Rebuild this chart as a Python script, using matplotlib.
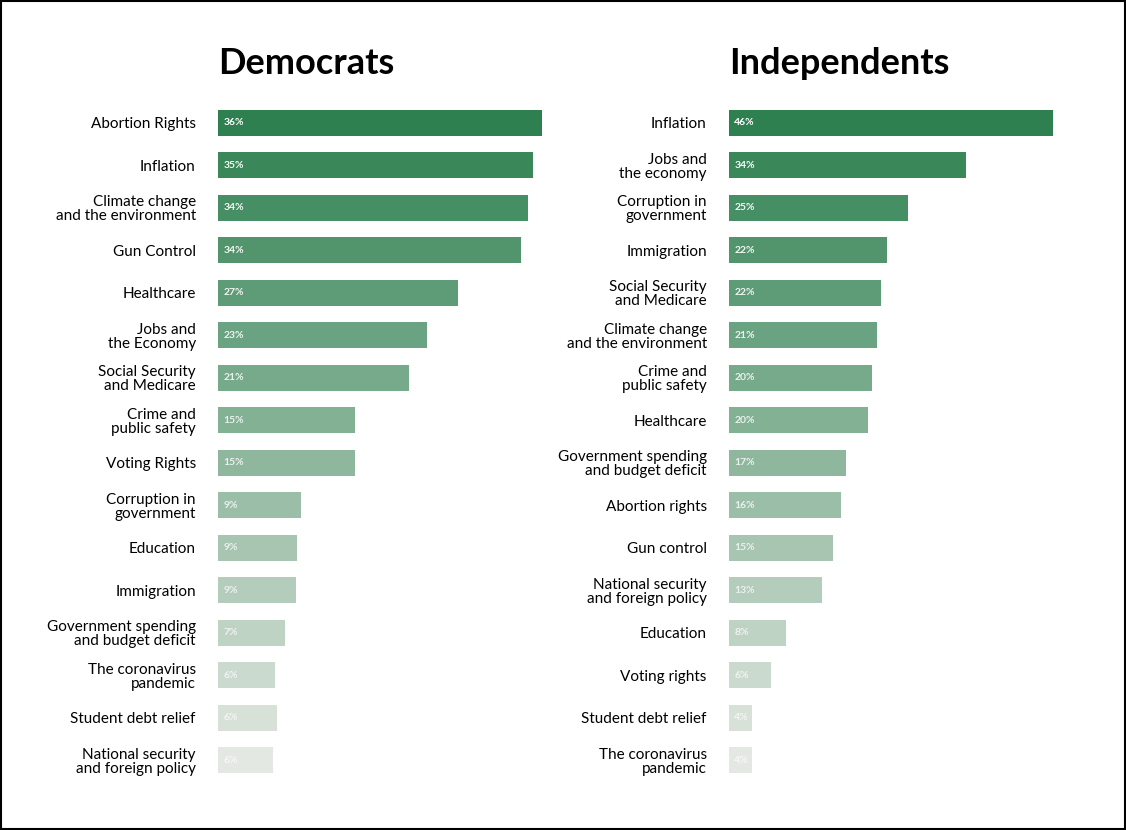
import matplotlib.pyplot as plt
import matplotlib.colors as mcolors
import numpy as np

plt.rcParams['font.family'] = ['Lato', 'DejaVu Sans']

dem_labels = ["Abortion Rights", "Inflation", "Climate change\nand the environment", "Gun Control",
              "Healthcare", "Jobs and\nthe Economy", "Social Security\nand Medicare", "Crime and\npublic safety",
              "Voting Rights", "Corruption in\ngovernment", "Education", "Immigration",
              "Government spending\nand budget deficit", "The coronavirus\npandemic", "Student debt relief",
              "National security\nand foreign policy"]
dem_values = [36, 35, 34.4, 33.7, 26.7, 23.2, 21.2, 15.2, 15.2, 9.2, 8.8, 8.7, 7.4, 6.3, 6.6, 6.1]
dem_text = ["36%", "35%", "34%", "34%", "27%", "23%", "21%", "15%", "15%", "9%", "9%", "9%", "7%", "6%", "6%", "6%"]

ind_labels = ["Inflation", "Jobs and\nthe economy", "Corruption in\ngovernment", "Immigration",
              "Social Security\nand Medicare", "Climate change\nand the environment", "Crime and\npublic safety",
              "Healthcare", "Government spending\nand budget deficit", "Abortion rights", "Gun control",
              "National security\nand foreign policy", "Education", "Voting rights", "Student debt relief",
              "The coronavirus\npandemic"]
ind_values = [46, 33.7, 25.4, 22.4, 21.6, 21, 20.3, 19.7, 16.6, 15.9, 14.8, 13.2, 8.1, 6, 3.3, 3.3]
ind_text = ["46%", "34%", "25%", "22%", "22%", "21%", "20%", "20%", "17%", "16%", "15%", "13%", "8%", "6%", "4%", "4%"]

dark = np.array(mcolors.to_rgb('#2e8050'))
light = np.array(mcolors.to_rgb('#e3e8e2'))
colors = [tuple(dark + (light - dark) * t) for t in np.linspace(0, 1, 16)]

fig = plt.figure(figsize=(11.26, 8.3), dpi=100)
fig.patches.append(plt.Rectangle((0.001, 0.001), 0.998, 0.998, transform=fig.transFigure,
                                 fill=False, edgecolor='black', linewidth=1.5))

def panel(x0, title, labels, values, texts, xmax):
    ax = fig.add_axes([x0, 0.0587, 0.2877, 0.819])
    y = np.arange(len(values))
    ax.barh(y, values, height=0.61, color=colors)
    for i, t in enumerate(texts):
        ax.text(0.6 * xmax / 36, i, t, va='center', ha='left', fontsize=7.5,
                fontweight='bold', color='white', alpha=1 - 0.35 * i / 15)
    ax.set_yticks(y)
    ax.set_yticklabels(labels, fontsize=11, linespacing=1.0)
    for lab in ax.get_yticklabels():
        lab.set_horizontalalignment('right')
    ax.tick_params(axis='y', length=0, pad=16)
    ax.set_xticks([])
    ax.set_xlim(0, xmax)
    ax.set_ylim(15.5, -0.5)
    for s in ax.spines.values():
        s.set_visible(False)
    fig.text(x0, 1 - 63 / 830, title, fontsize=26, fontweight='bold', va='center', ha='left')

panel(218 / 1126, "Democrats", dem_labels, dem_values, dem_text, 36)
panel(729 / 1126, "Independents", ind_labels, ind_values, ind_text, 46)

fig.savefig('out.png', dpi=100)
